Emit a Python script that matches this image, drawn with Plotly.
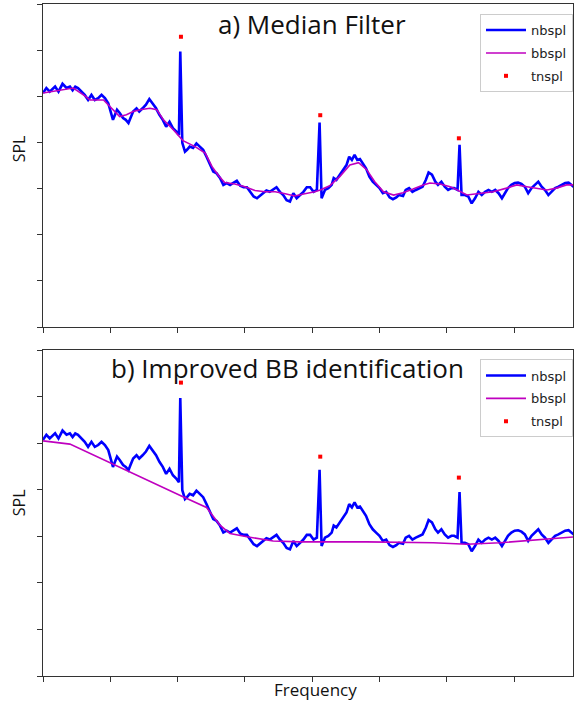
import plotly.graph_objects as go

# ---------------- data ----------------
freq = [0, 5, 10, 18, 23, 29, 35, 40, 44, 48, 52, 58, 62, 67, 72, 77, 82, 87, 92, 97,
        101, 104, 107, 110, 114, 119, 123, 127, 130, 134, 139, 143, 148, 153, 158, 163, 168, 173, 178, 183,
        188, 193, 198, 202, 204,
        207, 211, 214, 218, 223, 228, 233, 238, 243, 248, 253, 258, 263, 268, 273, 278, 283, 288, 293, 298,
        303, 308, 313, 318, 322, 327, 332, 337, 342, 347, 352, 357, 362, 367, 372, 377, 382, 387, 392, 397,
        402, 407, 411,
        414, 419, 424, 429, 432, 436, 441, 446, 451, 455, 459, 463, 467, 471, 475, 480, 485, 490, 495, 500,
        505, 510, 515, 520, 525, 529, 535, 539, 544, 549, 554, 559, 564, 569, 573, 578, 583, 587, 592, 597,
        602, 607, 611, 616, 619,
        622, 627, 632, 637, 642, 647, 652, 657, 662, 667, 672, 677, 682, 687, 691, 696, 701, 706, 711, 716,
        721, 726, 731, 736, 741, 746, 751, 756, 761, 766, 771, 776, 781, 786, 791]

nbspl = [5.07, 5.18, 5.10, 5.21, 5.10, 5.27, 5.18, 5.21, 5.13, 5.21, 5.18, 5.10, 5.03, 4.92, 5.03, 4.92, 4.96, 5.03, 4.96, 4.85,
         4.64, 4.49, 4.60, 4.71, 4.64, 4.53, 4.49, 4.42, 4.53, 4.67, 4.74, 4.67, 4.74, 4.82, 4.94, 4.85, 4.74, 4.60, 4.49, 4.34,
         4.45, 4.31, 4.24, 4.16, 5.97,
         3.99, 3.80, 3.84, 3.91, 3.88, 3.98, 3.91, 3.84, 3.69, 3.51, 3.37, 3.33, 3.23, 3.08, 3.12, 3.08, 3.13, 3.17, 3.06, 3.03,
         3.03, 2.93, 2.83, 2.79, 2.84, 2.91, 2.96, 2.93, 2.99, 3.03, 2.93, 2.86, 2.75, 2.72, 2.90, 2.79, 2.86, 2.93, 3.03, 3.03,
         2.93, 2.97, 4.43,
         2.79, 2.97, 3.01, 3.08, 3.23, 3.19, 3.30, 3.41, 3.51, 3.69, 3.62, 3.73, 3.62, 3.64, 3.56, 3.44, 3.26, 3.15, 3.08, 3.01,
         2.90, 2.93, 2.81, 2.77, 2.81, 2.86, 2.84, 2.97, 3.01, 2.93, 2.97, 3.01, 3.04, 3.19, 3.35, 3.30, 3.15, 3.08, 3.15, 3.04,
         2.97, 3.01, 3.01, 2.97, 3.95,
         2.86, 2.86, 2.83, 2.68, 2.79, 2.93, 2.86, 2.93, 2.97, 2.93, 2.97, 2.90, 2.79, 2.90, 3.01, 3.08, 3.12, 3.13, 3.10, 3.04,
         2.90, 3.01, 3.08, 3.15, 3.04, 2.97, 2.86, 2.93, 3.01, 3.04, 3.08, 3.12, 3.13, 3.08, 3.01]

# a) median-filtered broadband
bb_freq_a = [0, 25, 45, 60, 70, 90, 102, 114, 124, 134, 144, 159, 169, 179, 194, 208, 226, 241, 251, 261,
             270, 285, 300, 315, 330, 345, 360, 374, 389, 404, 412, 426, 441, 456, 469, 481, 493, 506, 521, 535,
             550, 565, 575, 590, 605, 610, 630, 649, 669, 689, 704, 719, 734, 749, 763, 778, 791]
bbspl_a = [5.07, 5.14, 5.18, 5.03, 4.92, 4.92, 4.74, 4.56, 4.60, 4.67, 4.71, 4.74, 4.71, 4.49, 4.27, 4.04, 3.91, 3.77, 3.48, 3.28,
           3.13, 3.10, 3.04, 2.96, 2.93, 2.93, 2.89, 2.84, 2.89, 2.93, 2.97, 3.06, 3.26, 3.51, 3.56, 3.41, 3.15, 2.93, 2.86, 2.91,
           2.99, 3.08, 3.12, 3.10, 3.04, 3.01, 2.86, 2.90, 2.93, 3.01, 3.08, 3.04, 3.01, 2.97, 3.01, 3.08, 3.08]

# b) improved broadband identification
bb_freq_b = [0, 40, 208, 243, 263, 278, 303, 342, 382, 481, 580, 630, 679, 729, 791]
bbspl_b = [5.05, 4.98, 3.85, 3.62, 3.24, 3.06, 2.99, 2.90, 2.88, 2.88, 2.86, 2.83, 2.86, 2.92, 2.99]

# tonal peaks
tn_freq = [205, 412, 618]
tnspl_a = [6.29, 4.59, 4.09]
tnspl_b = [6.30, 4.71, 4.26]

x_ticks = [0, 100, 200, 300, 400, 500, 600, 700]
y_ticks = [0, 1, 2, 3, 4, 5, 6, 7]

# ---------------- styles ----------------
BLUE = "#0000ff"
MAG = "#bf00bf"
RED = "#ff0000"
AX = "#333333"

fig = go.Figure()


def add_panel(xa, ya, legend, bbx, bby, tny):
    fig.add_trace(go.Scatter(x=freq, y=nbspl, mode="lines", name="nbspl", legendgroup=legend + "a",
                             line=dict(color=BLUE, width=2.6), xaxis=xa, yaxis=ya, legend=legend))
    fig.add_trace(go.Scatter(x=bbx, y=bby, mode="lines", name="bbspl", legendgroup=legend + "b",
                             line=dict(color=MAG, width=1.6), xaxis=xa, yaxis=ya, legend=legend))
    fig.add_trace(go.Scatter(x=tn_freq, y=tny, mode="markers", name="tnspl", legendgroup=legend + "c",
                             marker=dict(color=RED, size=4, symbol="square"),
                             xaxis=xa, yaxis=ya, legend=legend))


add_panel("x", "y", "legend", bb_freq_a, bbspl_a, tnspl_a)
add_panel("x2", "y2", "legend2", bb_freq_b, bbspl_b, tnspl_b)

axis_common = dict(showgrid=False, zeroline=False, showline=True, linecolor=AX, linewidth=1.3,
                   mirror=True, ticks="outside", ticklen=5, tickwidth=1.2, tickcolor=AX,
                   showticklabels=False)

xr = [0, 787.6]
yr = [0, 7]
top_dom = [0.5193, 1.0]
bot_dom = [0.0, 0.4851]

legend_common = dict(xref="paper", yref="paper", xanchor="right", yanchor="top",
                     bgcolor="rgba(255,255,255,0.85)", bordercolor="#cccccc", borderwidth=1,
                     font=dict(family="DejaVu Sans", size=13, color="#222222"),
                     itemwidth=40, tracegroupgap=3)

fig.update_layout(
    width=575, height=702,
    margin=dict(l=43, r=2, t=4, b=26),
    paper_bgcolor="white", plot_bgcolor="white",
    showlegend=True,
    xaxis=dict(domain=[0, 1], range=xr, tickvals=x_ticks, anchor="y", **axis_common),
    yaxis=dict(domain=top_dom, range=yr, tickvals=y_ticks, anchor="x", **axis_common),
    xaxis2=dict(domain=[0, 1], range=xr, tickvals=x_ticks, anchor="y2", **axis_common),
    yaxis2=dict(domain=bot_dom, range=yr, tickvals=y_ticks, anchor="x2", **axis_common),
    legend=dict(x=1.0, y=0.985, **legend_common),
    legend2=dict(x=1.0, y=0.471, **legend_common),
    annotations=[
        dict(text="a) Median Filter", xref="paper", yref="paper", x=0.5075, y=0.9705,
             xanchor="center", yanchor="middle", showarrow=False,
             font=dict(family="Open Sans", size=26, color="#111111")),
        dict(text="b) Improved BB identification", xref="paper", yref="paper", x=0.4604, y=0.459,
             xanchor="center", yanchor="middle", showarrow=False,
             font=dict(family="Open Sans", size=26, color="#111111")),
        dict(text="SPL", xref="paper", yref="paper", x=-0.045, y=0.784, textangle=-90,
             xanchor="center", yanchor="middle", showarrow=False,
             font=dict(family="Open Sans", size=16, color="#111111")),
        dict(text="SPL", xref="paper", yref="paper", x=-0.045, y=0.2574, textangle=-90,
             xanchor="center", yanchor="middle", showarrow=False,
             font=dict(family="Open Sans", size=16, color="#111111")),
        dict(text="Frequency", xref="paper", yref="paper", x=0.515, y=-0.0208,
             xanchor="center", yanchor="middle", showarrow=False,
             font=dict(family="Open Sans", size=17, color="#111111")),
    ],
)

fig.write_html("out.html", config={"displayModeBar": False},
               post_script="document.body.style.margin='0';")
